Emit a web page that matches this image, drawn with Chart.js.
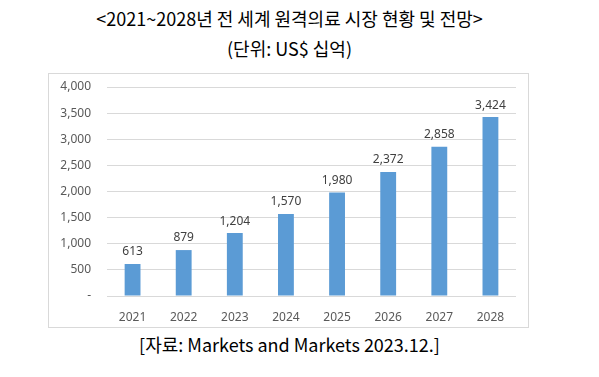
<!DOCTYPE html>
<html><head><meta charset="utf-8">
<script src="https://cdn.jsdelivr.net/npm/chart.js@4"></script>
<style>
html,body{margin:0;padding:0;background:#fff;width:599px;height:377px;overflow:hidden;font-family:"Noto Sans CJK KR","Noto Sans",sans-serif;}
.t{position:absolute;left:0;width:599px;text-align:center;color:#000;white-space:nowrap;}
#title{top:5px;font-size:18px;left:-10px;}
#sub{top:35px;font-size:18px;left:-10px;}
#src{top:331px;font-size:18px;left:-10px;}
#box{position:absolute;left:48px;top:73px;width:479px;height:253px;border:1px solid #d9d9d9;}
#box canvas{display:block;}
</style></head><body>
<div class="t" id="title">&lt;2021~2028년 전 세계 원격의료 시장 현황 및 전망&gt;</div>
<div class="t" id="sub">(단위: US$ 십억)</div>
<div id="box"><canvas id="c" width="479" height="253"></canvas></div>
<div class="t" id="src">[자료: Markets and Markets 2023.12.]</div>
<script>
const categories = ["2021","2022","2023","2024","2025","2026","2027","2028"];
const values = [613, 879, 1204, 1570, 1980, 2372, 2858, 3424];
const yTicks = [0, 500, 1000, 1500, 2000, 2500, 3000, 3500, 4000];

const labelPlugin = {
  id: 'valLabels',
  afterDatasetsDraw(chart) {
    const ctx = chart.ctx;
    const meta = chart.getDatasetMeta(0);
    ctx.save();
    ctx.font = '12px "Noto Sans", "Open Sans", sans-serif';
    ctx.fillStyle = '#404040';
    ctx.textAlign = 'center';
    ctx.textBaseline = 'bottom';
    meta.data.forEach((bar, i) => {
      ctx.fillText(values[i].toLocaleString('en-US'), bar.x, bar.y - 6);
    });
    ctx.restore();
  }
};

new Chart(document.getElementById('c'), {
  type: 'bar',
  data: { labels: categories, datasets: [{ data: values, backgroundColor: '#5b9bd5', barPercentage: 0.62, categoryPercentage: 0.5 }] },
  options: {
    responsive: false, animation: false,
    layout: { padding: { left: 0, right: 12, top: 13, bottom: 0 } },
    plugins: { legend: { display: false }, tooltip: { enabled: false } },
    scales: {
      x: {
        grid: { display: false }, border: { display: false },
        ticks: { color: '#595959', font: { size: 12, family: '"Noto Sans", "Open Sans", sans-serif' }, padding: 6, maxRotation: 0 },
        afterFit(s) { s.height = 31; s.paddingLeft = 0; s.paddingRight = 0; }
      },
      y: {
        min: 0, max: 4000,
        afterBuildTicks(s) { s.ticks = yTicks.map(v => ({ value: v })); },
        grid: { color: '#d9d9d9', drawTicks: false }, border: { display: false },
        ticks: { color: '#595959', font: { size: 12, family: '"Noto Sans", "Open Sans", sans-serif' }, padding: 16,
          callback: v => v === 0 ? '-' : v.toLocaleString('en-US') },
        afterFit(s) { s.width = 58; s.paddingTop = 0; s.paddingBottom = 0; }
      }
    }
  },
  plugins: [labelPlugin]
});
</script>
</body></html>
